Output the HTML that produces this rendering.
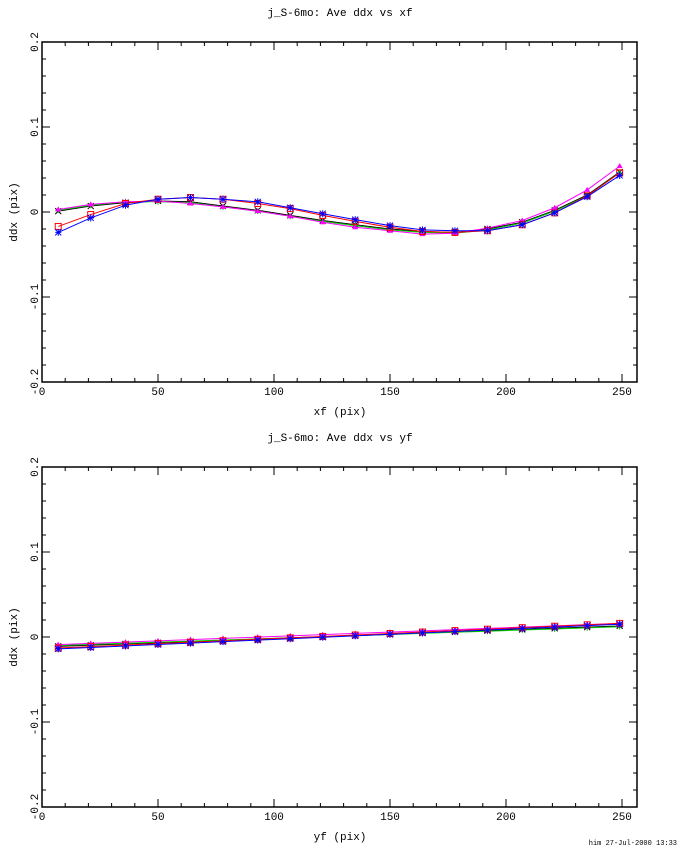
<!DOCTYPE html>
<html><head><style>
body{margin:0;background:#fff;width:680px;height:850px;overflow:hidden;}
svg text{font-family:"Liberation Mono","DejaVu Sans Mono",monospace;font-size:11px;}
</style></head><body>
<svg id="s" width="680" height="850" xmlns="http://www.w3.org/2000/svg"></svg>
<script>
const S=document.getElementById('s');let h='';
const X=[7,21,36,50,64,78,93,107,121,135,150,164,178,192,207,221,235,249];
function plot(top,title,xl,data){
 const bot=top+340,L=42,R=637,z=top+170;
 const px=v=>L+v*2.32, py=v=>z-v*850;
 h+=`<text x="340" y="${top-26}" text-anchor="middle">${title}</text>`;
 h+=`<rect x="${L}" y="${top}" width="${R-L}" height="340" fill="none" stroke="#000" stroke-width="1.5"/>`;
 for(let v=0;v<=255;v+=10){const x=px(v),len=v%50==0?8:4;
  h+=`<line x1="${x}" y1="${bot}" x2="${x}" y2="${bot-len}" stroke="#000"/><line x1="${x}" y1="${top}" x2="${x}" y2="${top+len}" stroke="#000"/>`;
  if(v%50==0)h+=`<text x="${x}" y="${bot+13}" text-anchor="middle">${v}</text>`;}
 for(let i=-20;i<=20;i+=2){const y=py(i/100),len=i%10==0?8:4;
  h+=`<line x1="${L}" y1="${y}" x2="${L+len}" y2="${y}" stroke="#000"/><line x1="${R}" y1="${y}" x2="${R-len}" y2="${y}" stroke="#000"/>`;
  if(i%10==0){const t=i==0?'0':(i/100).toFixed(1);h+=`<text transform="translate(${L-4},${y}) rotate(-90)" text-anchor="middle">${t}</text>`;}}
 h+=`<text transform="translate(17,${z}) rotate(-90)" text-anchor="middle">ddx (pix)</text>`;
 h+=`<text x="340" y="${bot+33}" text-anchor="middle">${xl}</text>`;
 const cols=['#000','#00d000','#ff00ff','#f00','#00f'];
 data.forEach((d,k)=>{const c=cols[k];
  h+=`<polyline fill="none" stroke="${c}" points="${d.map((v,i)=>px(X[i])+','+py(v)).join(' ')}"/>`;
  d.forEach((v,i)=>{const x=px(X[i]),y=py(v);
   if(k==0)h+=`<path d="M${x-3} ${y-3}L${x+3} ${y+3}M${x+3} ${y-3}L${x-3} ${y+3}" stroke="${c}"/>`;
   else if(k==1)h+=`<path d="M${x-3} ${y}H${x+3}M${x} ${y-3}V${y+3}" stroke="${c}"/>`;
   else if(k==2)h+=`<path d="M${x} ${y-3}L${x+3} ${y+2}L${x-3} ${y+2}Z" fill="${c}"/>`;
   else if(k==3)h+=`<rect x="${x-3}" y="${y-3}" width="6" height="6" fill="none" stroke="${c}"/>`;
   else h+=`<path d="M${x-3} ${y}H${x+3}M${x} ${y-3.5}V${y+3.5}M${x-3} ${y-3}L${x+3} ${y+3}M${x+3} ${y-3}L${x-3} ${y+3}" stroke="${c}"/>`;
  });});
}
const bk=[0.001,0.007,0.011,0.013,0.012,0.007,0.002,-0.004,-0.010,-0.015,-0.020,-0.023,-0.024,-0.020,-0.012,0.002,0.020,0.047];
const gr=bk.map((v,i)=>v+(i<3?0.001:-0.001));
const mg=[0.003,0.009,0.012,0.013,0.010,0.006,0.001,-0.005,-0.012,-0.018,-0.022,-0.026,-0.025,-0.019,-0.010,0.005,0.026,0.054];
const rd=[-0.017,-0.003,0.010,0.015,0.017,0.015,0.010,0.004,-0.004,-0.011,-0.018,-0.023,-0.024,-0.022,-0.015,-0.001,0.019,0.046];
const bl=[-0.024,-0.007,0.008,0.015,0.017,0.015,0.012,0.005,-0.002,-0.009,-0.016,-0.021,-0.022,-0.022,-0.015,-0.001,0.018,0.043];
plot(42,'j_S-6mo: Ave ddx vs xf','xf (pix)',[bk,gr,mg,rd,bl]);
const lin=(a,b)=>X.map(x=>a+(b-a)*(x-7)/242);
plot(467,'j_S-6mo: Ave ddx vs yf','yf (pix)',[lin(-0.011,0.013),lin(-0.010,0.012),lin(-0.009,0.016),lin(-0.013,0.016),lin(-0.014,0.015)]);
h+=`<text x="677" y="845" text-anchor="end" style="font-size:7px">him 27-Jul-2000 13:33</text>`;
S.innerHTML=h;
</script>
</body></html>
